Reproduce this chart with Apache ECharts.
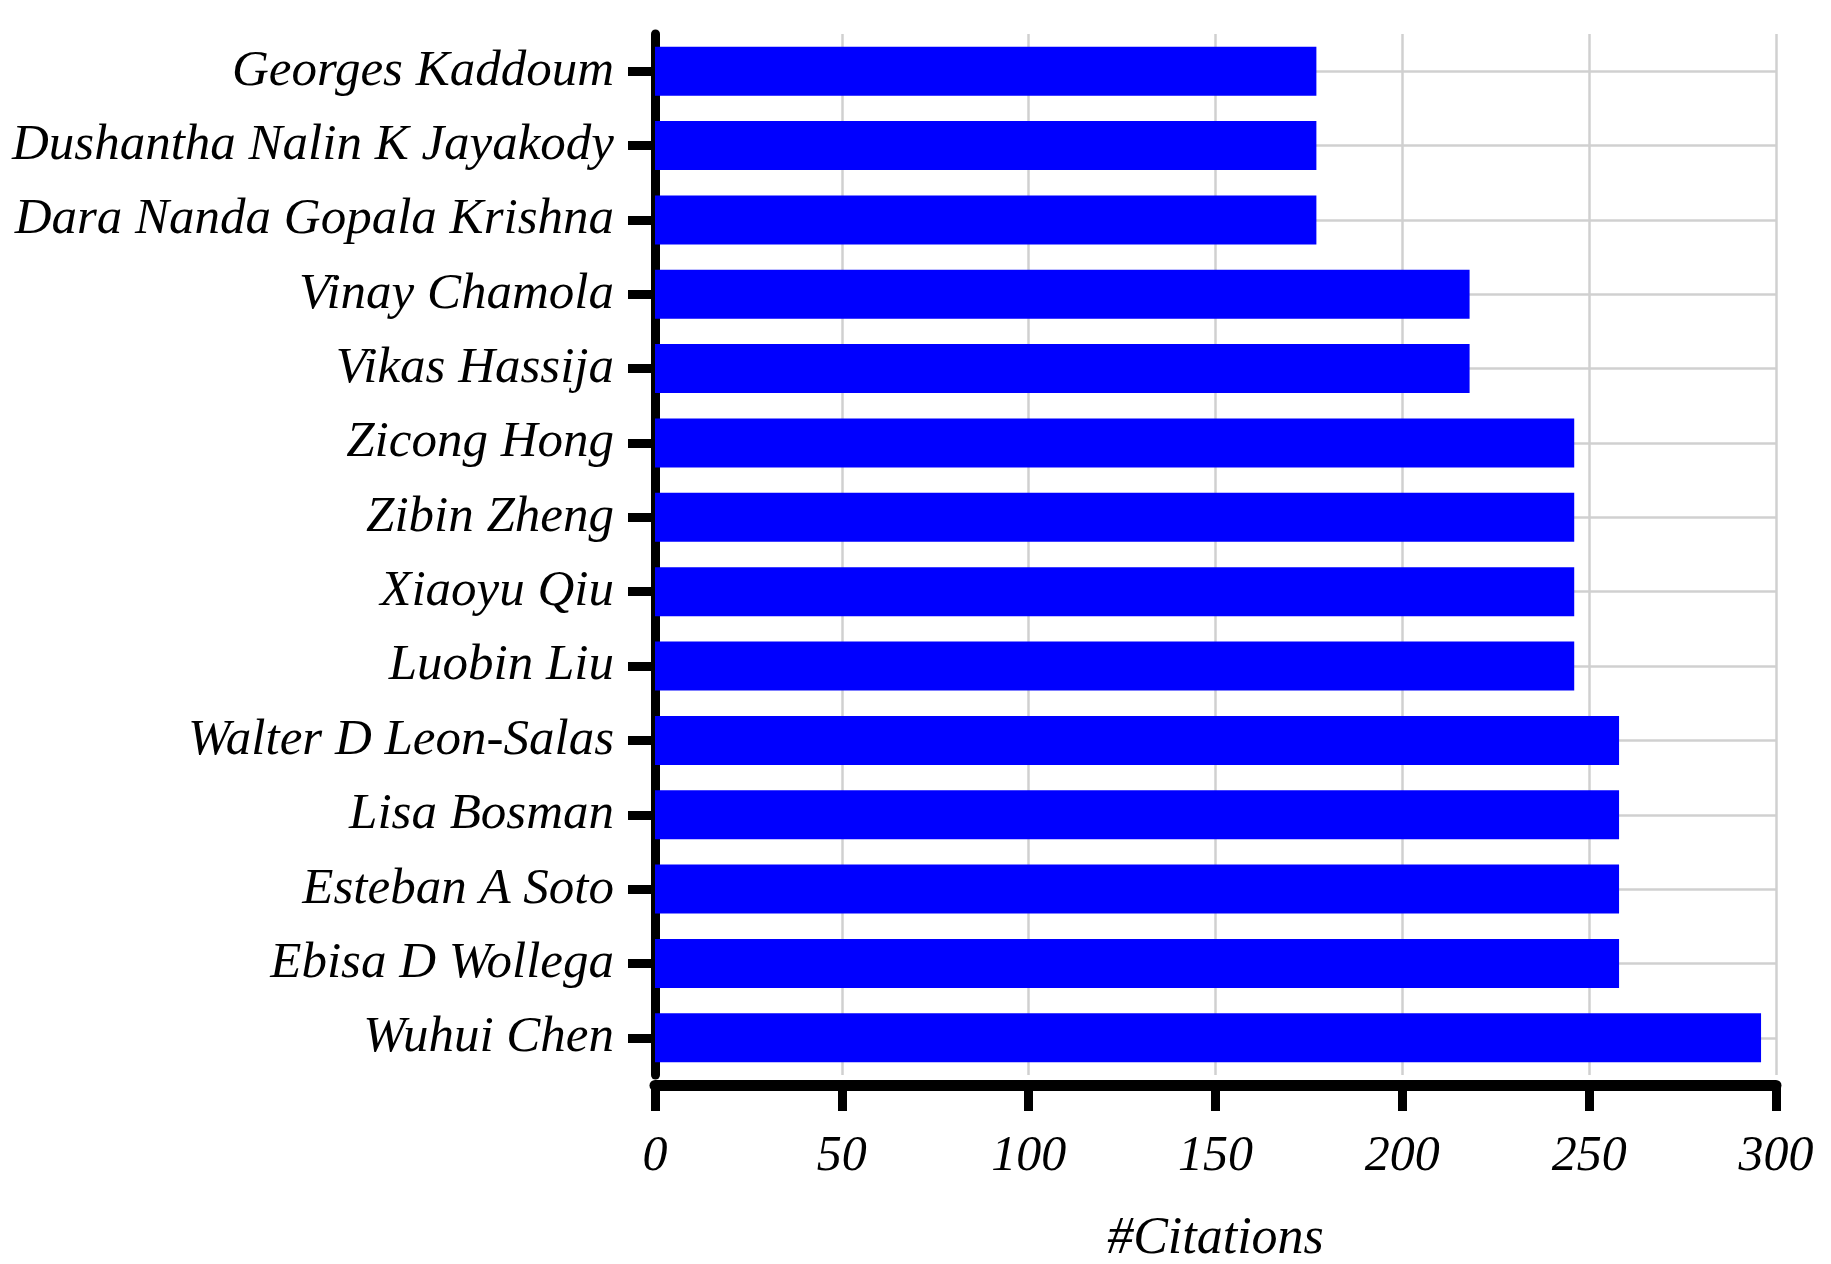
<!DOCTYPE html>
<html>
<head>
<meta charset="utf-8">
<script src="https://cdn.jsdelivr.net/npm/echarts@6/dist/echarts.min.js"></script>
<style>html,body{margin:0;padding:0;background:#fff}#c{width:1831px;height:1264px}</style>
</head>
<body>
<div id="c"></div>
<script>
const authors = ['Georges Kaddoum','Dushantha Nalin K Jayakody','Dara Nanda Gopala Krishna','Vinay Chamola','Vikas Hassija','Zicong Hong','Zibin Zheng','Xiaoyu Qiu','Luobin Liu','Walter D Leon-Salas','Lisa Bosman','Esteban A Soto','Ebisa D Wollega','Wuhui Chen'];
const citations = [177,177,177,218,218,246,246,246,246,258,258,258,258,296];
const xTicks = {min:0, max:300, interval:50};
const xTitle = '#Citations';

const font = '"Liberation Serif", "Times New Roman", serif';
const chart = echarts.init(document.getElementById('c'), null, {renderer:'canvas'});
chart.setOption({
  animation:false,
  backgroundColor:'#fff',
  grid:{left:655, right:55, top:34, bottom:189, containLabel:false, outerBoundsMode:'none'},
  xAxis:{
    type:'value', min:xTicks.min, max:xTicks.max, interval:xTicks.interval,
    offset:10,
    name:xTitle, nameLocation:'middle', nameGap:128,
    nameTextStyle:{fontFamily:font, fontStyle:'italic', fontSize:52, color:'#000'},
    axisLine:{show:true, lineStyle:{color:'#000', width:11}},
    axisTick:{show:true, length:26, lineStyle:{color:'#000', width:9}},
    axisLabel:{fontFamily:font, fontStyle:'italic', fontSize:50, color:'#000', margin:47},
    splitLine:{show:true, lineStyle:{color:'#d0d0d0', width:2.5}}
  },
  yAxis:{
    type:'category', data:authors, inverse:true,
    axisLine:{show:true, onZero:false, lineStyle:{color:'#000', width:9}},
    axisTick:{show:true, alignWithLabel:true, length:27, lineStyle:{color:'#000', width:9}},
    axisLabel:{fontFamily:font, fontStyle:'italic', fontSize:51, color:'#000', margin:41},
    splitLine:{show:false}
  },
  series:[
    {
      type:'line', data:[], z:1, silent:true,
      markLine:{silent:true, symbol:'none', animation:false, z:1,
        label:{show:false},
        lineStyle:{color:'#d0d0d0', width:2.5, type:'solid'},
        data:authors.map(a=>({yAxis:a}))}
    },
    {
      type:'bar', data:citations, barWidth:49, z:3,
      itemStyle:{color:'#0000ff'}
    }
  ]
});
</script>
</body>
</html>
